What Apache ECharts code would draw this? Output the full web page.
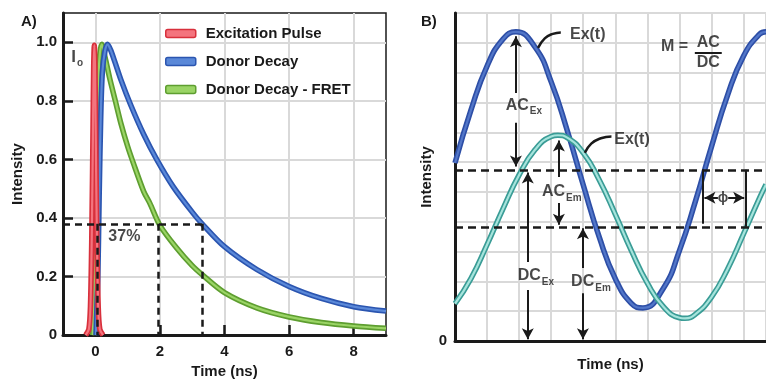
<!DOCTYPE html>
<html>
<head>
<meta charset="utf-8">
<script src="https://cdn.jsdelivr.net/npm/echarts@6/dist/echarts.min.js"></script>
<style>
  html, body { margin: 0; padding: 0; background: #fff; }
  #chart { width: 766px; height: 384px; }
</style>
</head>
<body>
<div id="chart"></div>
<script>
// ---- panel A: time domain (x in ns, y = intensity)
const pulseData = [[-0.3, 0], [-0.2, 0.02], [-0.15, 0.1], [-0.11, 0.33], [-0.07, 0.72], [-0.05, 0.92],
  [-0.03, 0.99], [-0.01, 0.92], [0.01, 0.72], [0.05, 0.33], [0.09, 0.1], [0.14, 0.02], [0.24, 0]]
const donorData = [[0.02, 0], [0.08, 0.2], [0.12, 0.47], [0.17, 0.75], [0.22, 0.9], [0.3, 0.97],
  [0.38, 0.993], [0.47, 0.975], [0.6, 0.935], [0.8, 0.87], [1.1, 0.785], [1.5, 0.685], [1.9, 0.6],
  [2.41, 0.507], [3, 0.42], [3.3, 0.381], [4, 0.302], [5, 0.224], [6, 0.166], [7, 0.125],
  [8, 0.097], [9, 0.082]]
const fretData = [[-0.08, 0], [-0.01, 0.3], [0.04, 0.62], [0.09, 0.86], [0.14, 0.96], [0.2, 0.993],
  [0.3, 0.95], [0.45, 0.875], [0.62, 0.8], [0.8, 0.72], [1, 0.645], [1.17, 0.59], [1.5, 0.49],
  [1.69, 0.45], [2, 0.375], [2.5, 0.3], [3, 0.237], [3.3, 0.207], [4, 0.145], [5, 0.093],
  [6, 0.062], [7, 0.043], [8, 0.031], [9, 0.023]]
const aXTicks = [0, 2, 4, 6, 8]
const aYTicks = [0, 0.2, 0.4, 0.6, 0.8, 1.0]
// 37% guide lines: [x1, y1, x2, y2]
const aGuides = [[-1, 0.38, 3.3, 0.38], [0.05, 0.38, 0.05, 0], [1.95, 0.38, 1.95, 0], [3.3, 0.38, 3.3, 0]]
const aTexts = [[0.9, 0.337, '{t|37%}'], [-0.56, 0.95, '{i|I}{s|o}']]
const legendNames = ['Excitation Pulse', 'Donor Decay', 'Donor Decay - FRET']

// ---- panel B: frequency domain
const exData = [[0, 0.597], [0.5, 0.775], [1, 0.922], [1.5, 1.013], [1.9, 1.037], [2.5, 0.985],
  [3, 0.869], [3.5, 0.706], [4, 0.523], [4.5, 0.348], [5, 0.209], [5.5, 0.126], [5.86, 0.111],
  [6.5, 0.177], [7, 0.303], [7.5, 0.469], [8, 0.652], [8.5, 0.824], [9, 0.956], [9.5, 1.029], [9.7, 1.037]]
const emData = [[0, 0.125], [0.5, 0.21], [1, 0.323], [1.5, 0.444], [2, 0.557], [2.5, 0.642],
  [3, 0.686], [3.21, 0.69], [3.5, 0.682], [4, 0.631], [4.5, 0.54], [5, 0.425], [5.5, 0.303],
  [6, 0.194], [6.5, 0.115], [7, 0.078], [7.17, 0.076], [7.5, 0.09], [8, 0.147], [8.5, 0.241],
  [9, 0.359], [9.5, 0.48], [9.7, 0.525]]
const dcLevels = [0.574, 0.383]
const bArrows = [
  [1.9, 0.832, 1.9, 1.022], [1.9, 0.732, 1.9, 0.585],
  [3.24, 0.55, 3.24, 0.672], [3.24, 0.463, 3.24, 0.39],
  [2.27, 0.265, 2.27, 0.565], [2.27, 0.171, 2.27, 0.006],
  [3.99, 0.245, 3.99, 0.378], [3.99, 0.16, 3.99, 0.006],
  [8.2, 0.48, 7.78, 0.48], [8.52, 0.48, 9.02, 0.48]
]
const bBrackets = [[7.73, 0.574, 7.73, 0.393], [9.06, 0.574, 9.06, 0.383], [7.48, 0.966, 8.32, 0.966]]
const leader1 = [[2.59, 0.983], [2.8, 1.015], [3.05, 1.03], [3.3, 1.035]]
const leader2 = [[4.05, 0.631], [4.25, 0.662], [4.55, 0.68], [4.88, 0.686]]
const bTexts = [
  [4.14, 1.027, '{t|Ex(t)}'], [5.52, 0.675, '{t|Ex(t)}'],
  [2.15, 0.79, '{t|AC}{s|Ex}'], [3.33, 0.5, '{t|AC}{s|Em}'],
  [2.52, 0.218, '{t|DC}{s|Ex}'], [4.24, 0.198, '{t|DC}{s|Em}'],
  [6.85, 0.987, '{t|M =}'], [7.9, 1.0, '{t|AC}'], [7.9, 0.935, '{t|DC}'],
  [8.36, 0.48, '{p|ϕ}']
]

const FONT = 'Liberation Sans'
const INK = '#1a1a1a'
const GRID = '#d9d9d9'

const richText = {
  t: { fontFamily: FONT, fontSize: 16, fontWeight: 'bold', color: INK },
  i: { fontFamily: FONT, fontSize: 17, fontWeight: 'bold', color: INK },
  s: { fontFamily: FONT, fontSize: 10, fontWeight: 'bold', color: INK, padding: [12, 0, 0, 1] },
  p: { fontFamily: FONT, fontSize: 14, fontWeight: 'bold', color: INK }
}

const seg = s => [{ coord: [s[0], s[1]] }, { coord: [s[2], s[3]] }]

const curve = (name, data, axis, outer, inner, smooth) => ([
  { type: 'line', name, data, xAxisIndex: axis, yAxisIndex: axis, smooth,
    symbol: 'none', lineStyle: { color: outer, width: 5.5 }, itemStyle: { color: outer }, z: 3 },
  { type: 'line', name: name + '-core', data, xAxisIndex: axis, yAxisIndex: axis, smooth,
    symbol: 'none', lineStyle: { color: inner, width: 2.2 }, itemStyle: { color: inner }, z: 3 }
])

const textSeries = (data, axis) => ({
  type: 'scatter', data, xAxisIndex: axis, yAxisIndex: axis, symbolSize: 0, z: 6,
  label: { show: true, position: 'inside', formatter: p => p.data[2], rich: richText }
})

const chart = echarts.init(document.getElementById('chart'), null, { renderer: 'canvas' })

chart.setOption({
  animation: false,
  backgroundColor: '#fff',
  title: [
    { text: 'A)', left: 16, top: 9, textStyle: { fontFamily: FONT, fontSize: 15, fontWeight: 'bold', color: INK } },
    { text: 'B)', left: 416, top: 9, textStyle: { fontFamily: FONT, fontSize: 15, fontWeight: 'bold', color: INK } }
  ],
  legend: {
    orient: 'vertical', left: 160, top: 21, itemWidth: 30, itemHeight: 8, itemGap: 13,
    icon: 'roundRect', selectedMode: false,
    textStyle: { fontFamily: FONT, fontSize: 15, fontWeight: 'bold', color: INK, padding: [0, 0, 0, 5] },
    data: [
      { name: legendNames[0], itemStyle: { color: '#f4747e', borderColor: '#d8303c', borderWidth: 1.5 } },
      { name: legendNames[1], itemStyle: { color: '#5a88d8', borderColor: '#2b55b0', borderWidth: 1.5 } },
      { name: legendNames[2], itemStyle: { color: '#9ad465', borderColor: '#5e9e30', borderWidth: 1.5 } }
    ]
  },
  grid: [
    { left: 63, top: 13, width: 323, height: 328, show: true, borderColor: INK, borderWidth: 1.5 },
    { left: 455, top: 13, width: 311, height: 328, show: true, borderColor: INK, borderWidth: 1.5 }
  ],
  xAxis: [
    {
      gridIndex: 0, type: 'value', min: -1, max: 9, interval: 1,
      name: 'Time (ns)', nameLocation: 'middle', nameGap: 26,
      nameTextStyle: { fontFamily: FONT, fontSize: 15, fontWeight: 'bold', color: INK },
      axisLine: { onZero: false, lineStyle: { color: INK, width: 3 } },
      axisTick: { inside: true, length: 10, lineStyle: { color: INK, width: 2.5 }, customValues: aXTicks },
      axisLabel: { customValues: aXTicks, margin: 9, fontFamily: FONT, fontSize: 15, fontWeight: 'bold', color: INK },
      splitLine: { lineStyle: { color: GRID, width: 2 } }
    },
    {
      gridIndex: 1, type: 'value', min: 0, max: 9.7, interval: 1,
      name: 'Time (ns)', nameLocation: 'middle', nameGap: 16,
      nameTextStyle: { fontFamily: FONT, fontSize: 15, fontWeight: 'bold', color: INK },
      axisLine: { onZero: false, lineStyle: { color: INK, width: 3 } },
      axisTick: { show: false },
      axisLabel: { show: false },
      splitLine: { lineStyle: { color: GRID, width: 2 } }
    }
  ],
  yAxis: [
    {
      gridIndex: 0, type: 'value', min: 0, max: 1.1, interval: 0.1,
      name: 'Intensity', nameLocation: 'middle', nameGap: 38,
      nameTextStyle: { fontFamily: FONT, fontSize: 15, fontWeight: 'bold', color: INK },
      axisLine: { show: true, onZero: false, lineStyle: { color: INK, width: 3 } },
      axisTick: { show: true, inside: true, length: 10, lineStyle: { color: INK, width: 2.5 }, customValues: aYTicks },
      axisLabel: {
        customValues: aYTicks, margin: 6, fontFamily: FONT, fontSize: 15, fontWeight: 'bold', color: INK,
        formatter: v => (v === 0 ? '0' : v.toFixed(1))
      },
      splitLine: { lineStyle: { color: GRID, width: 2 } }
    },
    {
      gridIndex: 1, type: 'value', min: 0, max: 1.1, interval: 0.1,
      name: 'Intensity', nameLocation: 'middle', nameGap: 11,
      nameTextStyle: { fontFamily: FONT, fontSize: 15, fontWeight: 'bold', color: INK },
      axisLine: { show: true, onZero: false, lineStyle: { color: INK, width: 3 } },
      axisTick: { show: false },
      axisLabel: { customValues: [0], margin: 8, fontFamily: FONT, fontSize: 15, fontWeight: 'bold', color: INK },
      splitLine: { lineStyle: { color: GRID, width: 2 } }
    }
  ],
  series: [
    // panel A guides
    {
      type: 'line', data: [], xAxisIndex: 0, yAxisIndex: 0, z: 4,
      markLine: {
        silent: true, symbol: 'none', label: { show: false },
        lineStyle: { color: INK, width: 2.5, type: [7, 5] },
        data: aGuides.map(seg)
      }
    },
    ...curve(legendNames[2], fretData, 0, '#5e9e30', '#9ad465', 0.3),
    ...curve(legendNames[1], donorData, 0, '#2b55b0', '#5a88d8', 0.3),
    ...curve(legendNames[0], pulseData, 0, '#d8303c', '#f4747e', 0.3),
    textSeries(aTexts, 0),

    // panel B
    {
      type: 'line', data: [], xAxisIndex: 1, yAxisIndex: 1, z: 4,
      markLine: {
        silent: true, symbol: 'none', label: { show: false },
        lineStyle: { color: INK, width: 2.5, type: [8, 5] },
        data: dcLevels.map(y => [{ coord: [0, y] }, { coord: [9.7, y] }])
      }
    },
    ...curve('Ex', exData, 1, '#2d4ea6', '#5276c8', 0.5),
    ...curve('Em', emData, 1, '#3a9c96', '#a6e4dc', 0.5),
    {
      type: 'line', data: [], xAxisIndex: 1, yAxisIndex: 1, z: 5,
      markLine: {
        silent: true, symbol: ['none', 'arrow'], symbolSize: [9, 11], label: { show: false },
        lineStyle: { color: INK, width: 2, type: 'solid' },
        data: bArrows.map(seg)
      }
    },
    {
      type: 'line', data: [], xAxisIndex: 1, yAxisIndex: 1, z: 5,
      markLine: {
        silent: true, symbol: 'none', label: { show: false },
        lineStyle: { color: INK, width: 2, type: 'solid' },
        data: bBrackets.map(seg)
      }
    },
    { type: 'line', data: leader1, xAxisIndex: 1, yAxisIndex: 1, smooth: 0.5, symbol: 'none', z: 5,
      lineStyle: { color: INK, width: 2.5 } },
    { type: 'line', data: leader2, xAxisIndex: 1, yAxisIndex: 1, smooth: 0.5, symbol: 'none', z: 5,
      lineStyle: { color: INK, width: 2.5 } },
    textSeries(bTexts, 1)
  ]
})
</script>
</body>
</html>
